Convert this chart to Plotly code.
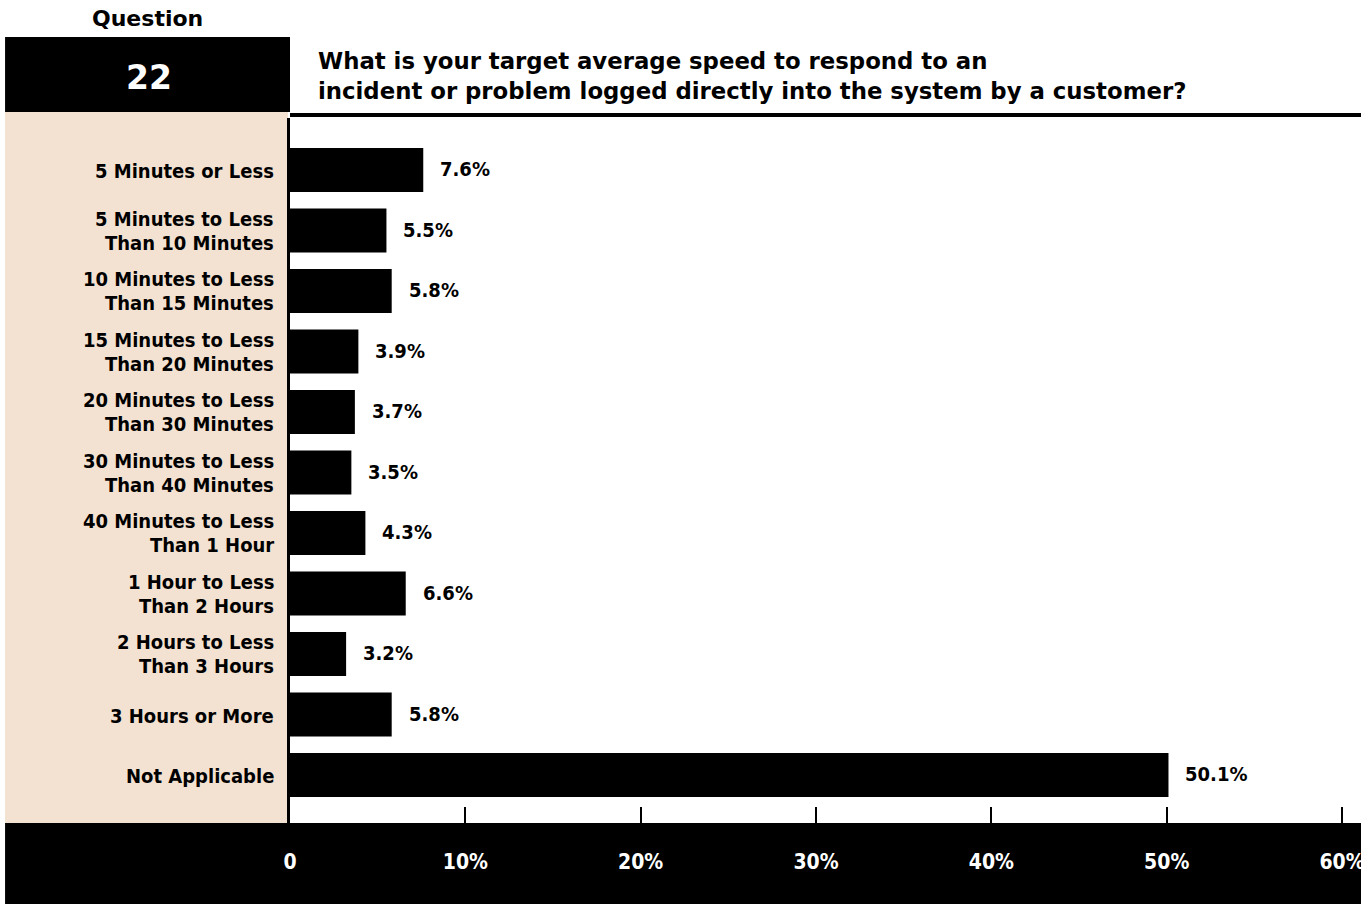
import plotly.graph_objects as go

# Survey data: response-time targets for customer-logged incidents
categories = [
    "5 Minutes or Less",
    "5 Minutes to Less|Than 10 Minutes",
    "10 Minutes to Less|Than 15 Minutes",
    "15 Minutes to Less|Than 20 Minutes",
    "20 Minutes to Less|Than 30 Minutes",
    "30 Minutes to Less|Than 40 Minutes",
    "40 Minutes to Less|Than 1 Hour",
    "1 Hour to Less|Than 2 Hours",
    "2 Hours to Less|Than 3 Hours",
    "3 Hours or More",
    "Not Applicable",
]
values = [7.6, 5.5, 5.8, 3.9, 3.7, 3.5, 4.3, 6.6, 3.2, 5.8, 50.1]
tick_vals = [0, 10, 20, 30, 40, 50, 60]
tick_text = ["0", "10%", "20%", "30%", "40%", "50%", "60%"]

question_no = "22"
question_lines = [
    "What is your target average speed to respond to an",
    "incident or problem logged directly into the system by a customer?",
]

W, H = 1365, 904
ML, MR, MT, MB = 290, 0, 118, 81
PW, PH = W - ML - MR, H - MT - MB

NARROW = "Liberation Sans Narrow, DejaVu Sans Condensed, Arial Narrow, sans-serif"
HEAD = "DejaVu Sans, Verdana, sans-serif"
BEIGE = "#F3E2D1"


def fx(x):
    return (x - ML) / PW


def fy(y):
    return (H - MB - y) / PH


ids = list(range(len(categories)))

fig = go.Figure(
    go.Bar(
        x=values,
        y=ids,
        orientation="h",
        marker=dict(color="black", line=dict(width=0)),
        width=0.727,
        hoverinfo="skip",
    )
)

shapes = [
    # beige label panel
    dict(type="rect", xref="paper", yref="paper", x0=fx(4), x1=fx(288), y0=fy(823), y1=fy(112),
         fillcolor=BEIGE, line=dict(width=0), layer="below"),
    # question number box
    dict(type="rect", xref="paper", yref="paper", x0=fx(4), x1=fx(290), y0=fy(112), y1=fy(37),
         fillcolor="black", line=dict(width=0), layer="below"),
    # rule under the question text
    dict(type="rect", xref="paper", yref="paper", x0=fx(290), x1=1, y0=fy(117), y1=fy(113),
         fillcolor="black", line=dict(width=0), layer="below"),
    # footer band carrying the x tick labels
    dict(type="rect", xref="paper", yref="paper", x0=fx(4), x1=1, y0=fy(904), y1=fy(823),
         fillcolor="black", line=dict(width=0), layer="below"),
]

annotations = [
    dict(text="<b>Question</b>", xref="paper", yref="paper", x=fx(147), y=fy(18),
         xanchor="center", yanchor="middle", showarrow=False,
         font=dict(family=HEAD, size=22, color="black")),
    dict(text="<b>" + question_no + "</b>", xref="paper", yref="paper", x=fx(148), y=fy(77),
         xanchor="center", yanchor="middle", showarrow=False,
         font=dict(family=HEAD, size=33, color="white")),
]
for i, line in enumerate(question_lines):
    annotations.append(
        dict(text="<b>" + line + "</b>", xref="paper", yref="paper", x=fx(316), y=fy(61 + 30 * i),
             xanchor="left", yanchor="middle", showarrow=False,
             font=dict(family=HEAD, size=22.8, color="black"))
    )

# category labels, one annotation per line for tight leading
for i, cat in enumerate(categories):
    parts = cat.split("|")
    shifts = [-1] if len(parts) == 1 else [12, -12]
    for part, sh in zip(parts, shifts):
        annotations.append(
            dict(text="<b>" + part + "</b>", xref="paper", yref="y", x=fx(276), y=i, yshift=sh,
                 xanchor="right", yanchor="middle", showarrow=False,
                 font=dict(family=NARROW, size=20, color="black"))
        )

# value labels beside each bar
for i, v in enumerate(values):
    annotations.append(
        dict(text="<b>%.1f%%</b>" % v, xref="x", yref="y", x=v, y=i, xshift=15, yshift=1,
             xanchor="left", yanchor="middle", showarrow=False,
             font=dict(family=NARROW, size=20, color="black"))
    )

fig.update_layout(
    width=W,
    height=H,
    margin=dict(l=ML, r=MR, t=MT, b=MB, pad=0),
    paper_bgcolor="white",
    plot_bgcolor="white",
    showlegend=False,
    shapes=shapes,
    annotations=annotations,
    xaxis=dict(
        range=[0, PW / 17.6],
        tickvals=tick_vals,
        ticktext=["<b>%s</b>" % t for t in tick_text],
        ticks="inside",
        ticklen=16,
        tickwidth=2,
        tickcolor="black",
        tickfont=dict(family=NARROW, size=21, color="white"),
        ticklabelstandoff=24,
        ticklabeloverflow="allow",
        showgrid=False,
        zeroline=False,
        showline=False,
    ),
    yaxis=dict(
        range=[10.793, -0.86],
        showticklabels=False,
        ticks="",
        showgrid=False,
        zeroline=False,
        showline=True,
        linewidth=3,
        linecolor="black",
    ),
)

fig.write_html("out.html", config={"displayModeBar": False})
